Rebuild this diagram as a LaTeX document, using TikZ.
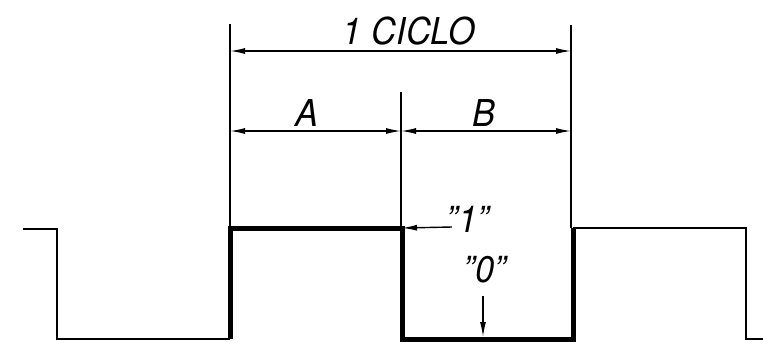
\documentclass[tikz,border=0pt]{standalone}
\usepackage{fontspec}
\setmainfont{TeX Gyre Heros}
\usetikzlibrary{arrows.meta}
\newcommand{\sq}{\char"0022\relax}
\tikzset{
  thin wave/.style={line width=2pt, line join=miter},
  thick wave/.style={line width=5pt, line join=miter},
  extline/.style={line width=1.4pt},
  dimline/.style={line width=1.4pt, {Latex[length=15pt,width=6pt]}-{Latex[length=15pt,width=6pt]}},
  ptr/.style={line width=1.4pt, -{Latex[length=15pt,width=6pt]}},
  lbl/.style={font=\fontsize{37}{37}\selectfont\itshape, inner sep=0pt, xscale=0.93}
}
\begin{document}
\begin{tikzpicture}[x=1pt,y=-1pt]
\useasboundingbox (0,0) rectangle (763,341);
% waveform points
\coordinate (w0) at (23,229);
\coordinate (w1) at (57,229);
\coordinate (w2) at (57,339);
\coordinate (w3) at (230,339);
\coordinate (w4) at (230,228);
\coordinate (w5) at (402,228);
\coordinate (w6) at (402,339);
\coordinate (w7) at (573,339);
\coordinate (w8) at (573,228);
\coordinate (w9) at (746,228);
\coordinate (w10) at (746,339);
\coordinate (w11) at (763,339);
\draw[thin wave] (w0) -- (w1) -- (w2) -- (w3);
\draw[thick wave] (w3) -- (w4) -- (w5) -- (w6) -- (w7) -- (w8);
\draw[thin wave] (w8) -- (w9) -- (w10) -- (w11);
% extension lines
\coordinate (e1t) at (230,24);
\coordinate (e2t) at (401,92);
\coordinate (e3t) at (571,25);
\coordinate (e1b) at (230,228);
\coordinate (e2b) at (401,228);
\coordinate (e3b) at (571,228);
\draw[extline] (e1t) -- (e1b);
\draw[extline] (e2t) -- (e2b);
\draw[extline] (e3t) -- (e3b);
% dimension arrows
\coordinate (c1) at (230,51);
\coordinate (c2) at (571,51);
\coordinate (a1) at (230,131);
\coordinate (a2) at (401,131);
\coordinate (b2) at (571,131);
\draw[dimline] (c1) -- (c2);
\draw[dimline] (a1) -- (a2);
\draw[dimline] (a2) -- (b2);
% labels
\node[lbl] (ciclo) at (409,31) {1 CICLO};
\node[lbl] (A) at (307,113) {A};
\node[lbl] (B) at (484,113) {B};
\node[lbl] (one) at (468,219) {\sq1\sq};
\node[lbl] (zero) at (485,270) {\sq0\sq};
% pointers
\coordinate (p1s) at (452,227);
\coordinate (p0s) at (483,296);
\coordinate (p0e) at (483,337);
\draw[ptr] (p1s) -- (w5);
\draw[ptr] (p0s) -- (p0e);
\end{tikzpicture}
\end{document}
